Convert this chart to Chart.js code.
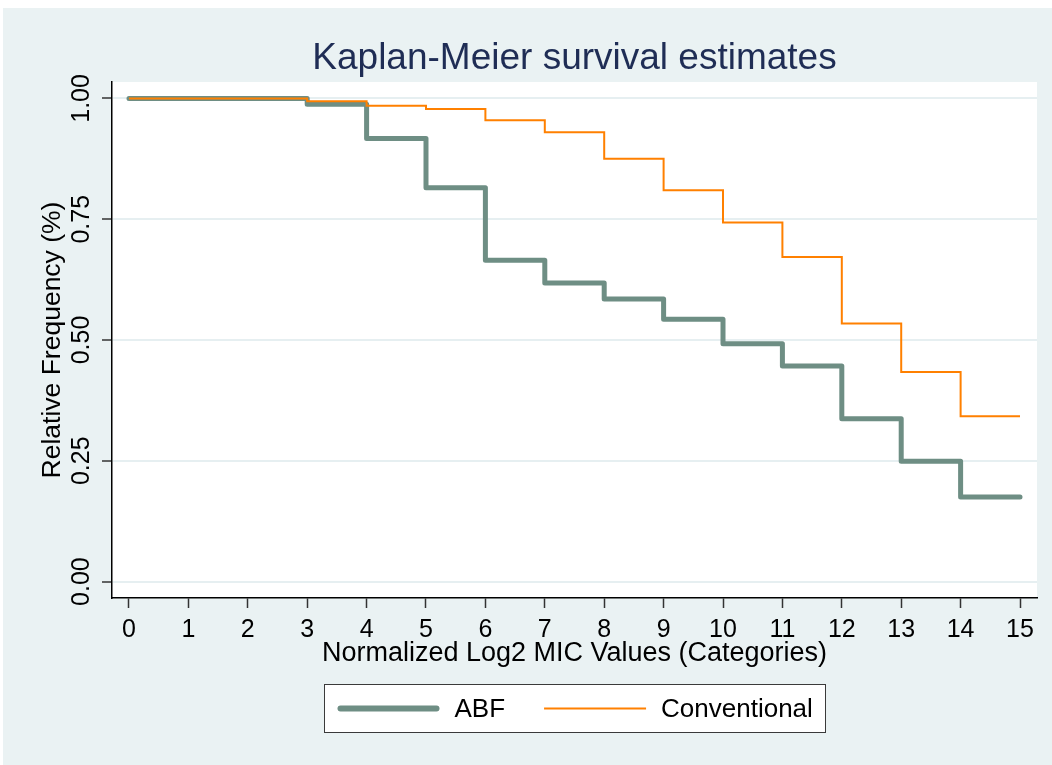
<!DOCTYPE html>
<html>
<head>
<meta charset="utf-8">
<title>Kaplan-Meier survival estimates</title>
<script src="https://cdn.jsdelivr.net/npm/chart.js@4.4.1/dist/chart.umd.min.js"></script>
<style>
  html, body { margin: 0; padding: 0; background: #ffffff; }
  canvas { display: block; }
</style>
</head>
<body>
<canvas id="km" width="1052" height="765"></canvas>
<script>
// Survival step points: each value holds from its category until the next one.
const micCategories = [0, 3, 4, 5, 6, 7, 8, 9, 10, 11, 12, 13, 14, 15];
const abfSurvival = [1.000, 0.988, 0.917, 0.815, 0.665, 0.618, 0.585, 0.543, 0.492, 0.446, 0.337, 0.249, 0.175, 0.175];
const conventionalSurvival = [1.000, 0.994, 0.985, 0.978, 0.955, 0.930, 0.875, 0.810, 0.743, 0.672, 0.534, 0.434, 0.342, 0.342];

const xTickValues = [0, 1, 2, 3, 4, 5, 6, 7, 8, 9, 10, 11, 12, 13, 14, 15];
const yTickValues = [0, 0.25, 0.5, 0.75, 1];

const seriesNames = ['ABF', 'Conventional'];

const FONT = '"Liberation Sans", Arial, Helvetica, sans-serif';
const BG = '#EAF2F3';

const toPoints = (xs, ys) => xs.map((x, i) => ({ x: x, y: ys[i] }));

// Page background (graph region) and white plot region
const backdrop = {
  id: 'backdrop',
  beforeDraw(chart) {
    const { ctx, width, height, chartArea } = chart;
    ctx.save();
    ctx.fillStyle = '#ffffff';
    ctx.fillRect(0, 0, width, height);
    ctx.fillStyle = BG;
    ctx.fillRect(3, 8, width - 3, height - 8);
    ctx.fillStyle = '#ffffff';
    ctx.fillRect(chartArea.left, chartArea.top, chartArea.right - chartArea.left, chartArea.bottom - chartArea.top);
    ctx.restore();
  }
};

// Framed legend below the axis title, one line sample per series
const framedLegend = {
  id: 'framedLegend',
  afterDraw(chart) {
    const { ctx, chartArea } = chart;
    ctx.save();
    ctx.font = '26px ' + FONT;
    const items = chart.data.datasets.map(ds => ({
      label: ds.label,
      color: ds.borderColor,
      lw: ds.legendLineWidth,
      cap: ds.borderCapStyle,
      tw: ctx.measureText(ds.label).width
    }));
    const sample = 102, gapText = 15, gapItem = 39, pad = 13;
    const contentW = items.reduce((s, it) => s + sample + gapText + it.tw, 0) + gapItem * (items.length - 1);
    const boxW = Math.round(contentW + 2 * pad);
    const cx = (chartArea.left + chartArea.right) / 2;
    const boxLeft = Math.round(cx - boxW / 2) + 0.5;
    const boxTop = Math.round(chartArea.bottom + 86) + 0.5;
    const boxH = 48;
    ctx.fillStyle = '#ffffff';
    ctx.fillRect(boxLeft, boxTop, boxW, boxH);
    ctx.strokeStyle = '#3a3a3a';
    ctx.lineWidth = 1;
    ctx.strokeRect(boxLeft, boxTop, boxW, boxH);
    const midY = boxTop + boxH / 2;
    let x = boxLeft + pad;
    items.forEach(it => {
      ctx.beginPath();
      ctx.strokeStyle = it.color;
      ctx.lineWidth = it.lw;
      ctx.lineCap = it.cap;
      const inset = it.cap === 'round' ? it.lw / 2 : 0;
      ctx.moveTo(x + inset, midY);
      ctx.lineTo(x + sample - inset, midY);
      ctx.stroke();
      x += sample + gapText;
      ctx.fillStyle = '#000000';
      ctx.textAlign = 'left';
      ctx.textBaseline = 'middle';
      ctx.fillText(it.label, x, midY + 1);
      x += it.tw + gapItem;
    });
    ctx.restore();
  }
};

new Chart(document.getElementById('km'), {
  type: 'line',
  data: {
    datasets: [
      {
        label: seriesNames[0],
        data: toPoints(micCategories, abfSurvival),
        borderColor: '#6E8E84',
        backgroundColor: '#6E8E84',
        borderWidth: 5,
        legendLineWidth: 6,
        borderJoinStyle: 'round',
        borderCapStyle: 'round',
        stepped: 'before',
        pointRadius: 0,
        fill: false,
        order: 2
      },
      {
        label: seriesNames[1],
        data: toPoints(micCategories, conventionalSurvival),
        borderColor: '#FF8000',
        backgroundColor: '#FF8000',
        borderWidth: 2,
        legendLineWidth: 2,
        borderJoinStyle: 'miter',
        borderCapStyle: 'butt',
        stepped: 'before',
        pointRadius: 0,
        fill: false,
        order: 1
      }
    ]
  },
  options: {
    responsive: false,
    animation: false,
    layout: { padding: { top: 30, right: 15, bottom: 95, left: 0 } },
    plugins: {
      legend: { display: false },
      tooltip: { enabled: false },
      title: {
        display: true,
        text: 'Kaplan-Meier survival estimates',
        color: '#1F2D55',
        fullSize: false,
        font: { family: FONT, size: 37, weight: 'normal', lineHeight: 1 },
        padding: { top: 10, bottom: 5 }
      }
    },
    scales: {
      x: {
        type: 'linear',
        min: -0.286,
        max: 15.286,
        afterBuildTicks(scale) { scale.ticks = xTickValues.map(v => ({ value: v })); },
        afterFit(scale) { scale.height = 72; scale.paddingLeft = 0; scale.paddingRight = 0; },
        ticks: {
          color: '#000000',
          font: { family: FONT, size: 25, lineHeight: 1.2 },
          padding: 7,
          maxRotation: 0,
          minRotation: 0,
          autoSkip: false,
          callback: v => String(v)
        },
        grid: {
          drawOnChartArea: false,
          drawTicks: true,
          tickLength: 10,
          tickColor: '#333333',
          tickWidth: 1.5
        },
        border: { display: true, color: '#000000', width: 1.5 },
        title: {
          display: true,
          text: 'Normalized Log2 MIC Values (Categories)',
          color: '#000000',
          font: { family: FONT, size: 27, lineHeight: 1.2 },
          padding: { top: 0, bottom: 0 }
        }
      },
      y: {
        type: 'linear',
        min: -0.034,
        max: 1.034,
        afterBuildTicks(scale) { scale.ticks = yTickValues.map(v => ({ value: v })); },
        afterFit(scale) { scale.width = 112; scale.paddingTop = 0; scale.paddingBottom = 0; },
        ticks: {
          color: '#000000',
          font: { family: FONT, size: 25, lineHeight: 1.2 },
          minRotation: 90,
          maxRotation: 90,
          crossAlign: 'center',
          padding: -4,
          autoSkip: false,
          callback: v => Number(v).toFixed(2)
        },
        grid: {
          color: '#E6EFF1',
          lineWidth: 2,
          drawTicks: true,
          tickLength: 10,
          tickColor: '#333333',
          tickWidth: 1.5
        },
        border: { display: true, color: '#000000', width: 1.5 },
        title: {
          display: true,
          text: 'Relative Frequency (%)',
          color: '#000000',
          font: { family: FONT, size: 26.5, lineHeight: 1.2 },
          padding: { top: 37, bottom: 0 }
        }
      }
    }
  },
  plugins: [backdrop, framedLegend]
});
</script>
</body>
</html>
